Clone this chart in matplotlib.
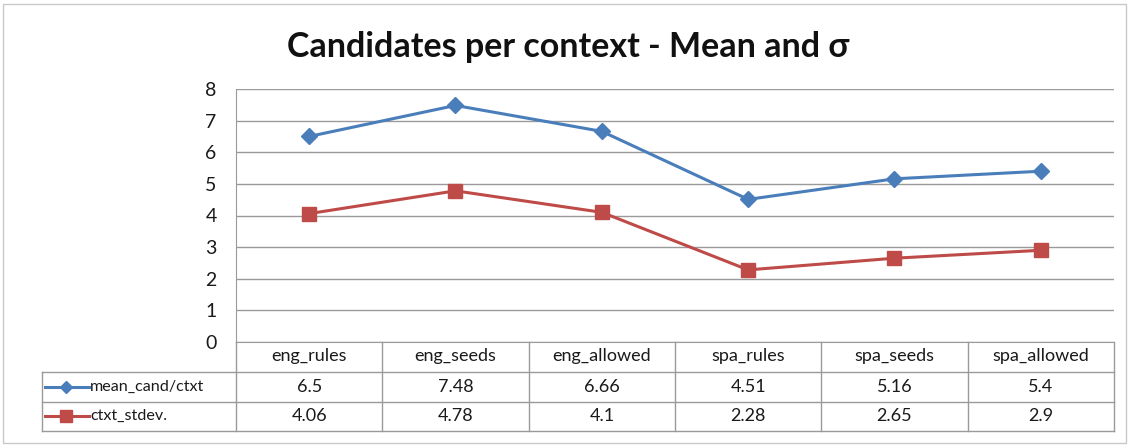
import matplotlib
matplotlib.use("Agg")
import matplotlib.pyplot as plt
from matplotlib.lines import Line2D
from matplotlib.patches import Rectangle
import matplotlib.transforms as mtransforms

categories = ["eng_rules", "eng_seeds", "eng_allowed", "spa_rules", "spa_seeds", "spa_allowed"]
mean_cand = [6.5, 7.48, 6.66, 4.51, 5.16, 5.4]
ctxt_stdev = [4.06, 4.78, 4.1, 2.28, 2.65, 2.9]
mean_labels = ["6.5", "7.48", "6.66", "4.51", "5.16", "5.4"]
stdev_labels = ["4.06", "4.78", "4.1", "2.28", "2.65", "2.9"]
series_names = ["mean_cand/ctxt", "ctxt_stdev."]
title = "Candidates per context - Mean and σ"

BLUE = "#4A7EBB"
RED = "#BE4B48"
GRID = "#9a9a9a"
FONT = ["Lato", "DejaVu Sans"]

W, H = 1129, 445
fig = plt.figure(figsize=(W / 100, H / 100), dpi=100)
fig.patch.set_facecolor("white")

# chart frame
fig.patches.append(Rectangle((3 / W, 2 / H), (W - 6) / W, (H - 6) / H,
                             transform=fig.transFigure, fill=False,
                             edgecolor="#c8c8c8", linewidth=1.0))

left, right, top, bottom = 236, 1114, 89, 342
ax = fig.add_axes([left / W, (H - bottom) / H, (right - left) / W, (bottom - top) / H])
n = len(categories)
x = list(range(n))
ax.set_xlim(-0.5, n - 0.5)
ax.set_ylim(0, 8)
ax.set_yticks(range(0, 9))
ax.set_xticks([])
ax.grid(axis="y", color=GRID, linewidth=1.0)
ax.set_axisbelow(True)
for s in ["top", "right"]:
    ax.spines[s].set_visible(False)
ax.spines["left"].set_color(GRID)
ax.spines["bottom"].set_color(GRID)
ax.tick_params(axis="y", length=0, pad=14, labelsize=14, labelcolor="#1a1a1a")
for lab in ax.get_yticklabels():
    lab.set_family(FONT)

ax.plot(x, mean_cand, color=BLUE, linewidth=2.2, marker="D", markersize=8.5,
        markerfacecolor=BLUE, markeredgecolor=BLUE, clip_on=False, zorder=3)
ax.plot(x, ctxt_stdev, color=RED, linewidth=2.2, marker="s", markersize=9.5,
        markerfacecolor=RED, markeredgecolor=RED, clip_on=False, zorder=3)

fig.text(0.503, 1 - 47 / H, title, ha="center", va="center", fontsize=24.5,
         fontweight="bold", family=FONT, color="#111111")

# data table below the plot area
ah = bottom - top
def ay(py):
    return (bottom - py) / ah

trans = mtransforms.blended_transform_factory(ax.transData, ax.transAxes)
row_y = [342, 372, 402, 431]
bounds = [i - 0.5 for i in range(n + 1)]
tbl_left = -0.5 - (left - 42) / ((right - left) / n)

line_kw = dict(color=GRID, linewidth=1.0, transform=trans, clip_on=False)
for b in bounds:
    ax.add_line(Line2D([b, b], [ay(342), ay(431)], **line_kw))
for py in row_y[1:]:
    ax.add_line(Line2D([tbl_left, n - 0.5], [ay(py), ay(py)], **line_kw))
ax.add_line(Line2D([tbl_left, tbl_left], [ay(372), ay(431)], **line_kw))

txt_kw = dict(transform=trans, ha="center", va="center", fontsize=13,
              family=FONT, color="#1a1a1a", clip_on=False)
for i, c in enumerate(categories):
    ax.text(i, ay(356), c, **txt_kw)
    ax.text(i, ay(387), mean_labels[i], **txt_kw)
    ax.text(i, ay(416), stdev_labels[i], **txt_kw)

# legend keys in the table's first column
px = (right - left) / n
def dx(pxx):
    return -0.5 + (pxx - left) / px

keys = [(BLUE, "D", 6.5, 387, series_names[0]), (RED, "s", 8, 416, series_names[1])]
for col, mk, ms, py, name in keys:
    ax.add_line(Line2D([dx(45), dx(89)], [ay(py), ay(py)], color=col, linewidth=2.2,
                       transform=trans, clip_on=False))
    ax.add_line(Line2D([dx(66)], [ay(py)], color=col, marker=mk, markersize=ms,
                       linestyle="none", transform=trans, clip_on=False))
    ax.text(dx(90), ay(py), name, transform=trans, ha="left", va="center",
            fontsize=11.6, family=FONT, color="#1a1a1a", clip_on=False)

fig.savefig("out.png", dpi=100, facecolor="white")
